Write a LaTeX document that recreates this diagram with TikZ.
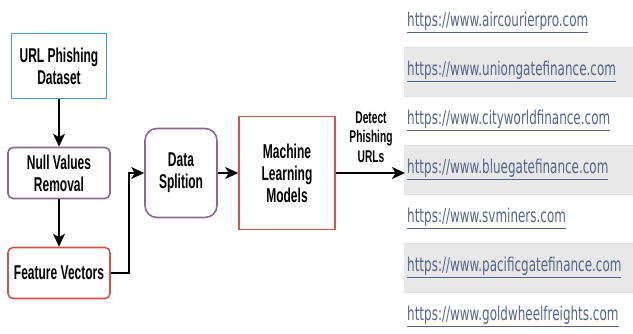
\documentclass[tikz,border=0pt]{standalone}
\usepackage{fontspec}
\setmainfont{Liberation Sans}
\newfontfamily\boxfont{Liberation Sans}[FakeStretch=0.6]
\newfontfamily\linkfont{DejaVu Sans}[FakeStretch=0.63]
\usepackage{tikz}
\usetikzlibrary{positioning,arrows.meta}

\definecolor{dsblue}{RGB}{74,154,216}
\definecolor{stpurple}{RGB}{140,105,140}
\definecolor{stred}{RGB}{214,80,80}
\definecolor{linkblue}{RGB}{84,100,138}
\definecolor{rowgray}{RGB}{232,232,232}

\begin{document}
\begin{tikzpicture}[
  x=1pt, y=-1pt,
  blk/.style={draw, line width=1.6pt, align=center, inner sep=0pt,
    font={\boxfont\bfseries\fontsize{20}{22}\selectfont}},
  flow/.style={-{Stealth[length=13pt,width=12pt,inset=3.5pt]}, line width=1.8pt},
  link/.style={anchor=west, inner sep=2pt, text=linkblue,
    font={\linkfont\fontsize{19}{21}\selectfont}}
]
\useasboundingbox (0,0) rectangle (633,333);
% url list on the right, every other row shaded
\foreach \u [count=\i from 0] in {aircourierpro,uniongatefinance,cityworldfinance,bluegatefinance,svminers,pacificgatefinance,goldwheelfreights}{
  \ifodd\i\relax
    \fill[rowgray] (404,-2+49*\i) rectangle (640,47+49*\i);
    \draw[gray!25] (404,-2+49*\i) -- (640,-2+49*\i) (404,47+49*\i) -- (640,47+49*\i);
  \fi
  \node[link] (url\i) at (405,22.5+49*\i) {\underline{https://www.\u.com}};
}
% processing steps
\node[blk, draw=dsblue, minimum width=95, minimum height=65] (d0) at (59,66) {URL Phishing\\Dataset};
\node[blk, draw=stpurple, rounded corners=5pt, minimum width=102, minimum height=51] (d1) at (59,173) {Null Values\\Removal};
\node[blk, draw=stred, rounded corners=5pt, minimum width=102, minimum height=51] (d2) at (59,273) {Feature Vectors};
\node[blk, draw=stpurple, rounded corners=12pt, minimum width=72, minimum height=89] (d3) at (181,173) {Data\\Splition};
\node[blk, draw=stred, minimum width=96, minimum height=113] (d4) at (287,173) {Machine\\Learning\\Models};
\node[align=center, inner sep=0pt, font={\boxfont\bfseries\fontsize{17}{19.5}\selectfont}] (lbl) at (371,137) {Detect\\Phishing\\URLs};
\draw[flow] (d0) -- (d1);
\draw[flow] (d1) -- (d2);
\draw[flow] (d2.east) -- ++(18,0) |- (d3.west);
\draw[flow] (d3) -- (d4);
\draw[flow] (d4.east) -- (d4.east -| url3.west);
\end{tikzpicture}
\end{document}
